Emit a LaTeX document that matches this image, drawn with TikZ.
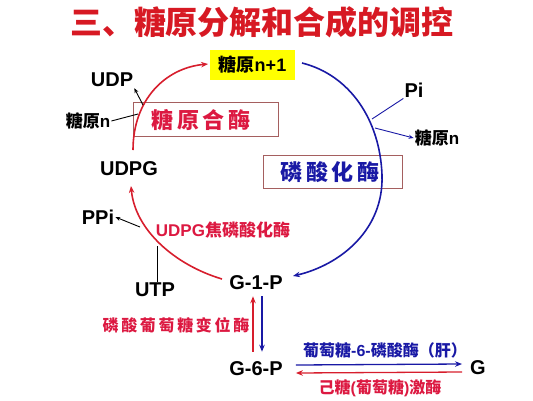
\documentclass[tikz,border=0pt]{standalone}
\usepackage{fontspec}
\setmainfont{Liberation Sans}
\newfontfamily\cjk{Noto Sans CJK SC}
\usetikzlibrary{arrows.meta}
\definecolor{titlered}{RGB}{215,25,35}
\definecolor{arcred}{RGB}{215,30,45}
\definecolor{lblred}{RGB}{220,25,65}
\definecolor{dblue}{RGB}{25,25,165}
\definecolor{boxline}{RGB}{165,95,95}
\definecolor{hlyellow}{RGB}{255,255,0}
\begin{document}
\begin{tikzpicture}[x=1pt,y=-1pt,
  lbl/.style={font=\fontsize{20}{24}\selectfont\bfseries, inner sep=1pt},
  small/.style={font=\fontsize{17}{20}\selectfont\bfseries, inner sep=1pt},
  enzbox/.style={draw=boxline, line width=0.8pt, inner sep=0pt},
  redarc/.style={draw=arcred, line width=1.6pt},
  bluearc/.style={draw=dblue, line width=1.6pt},
  tip/.style={-{Stealth[length=7pt,width=5.5pt]}},
  thin/.style={draw=black, line width=0.9pt},
  stip/.style={-{Stealth[length=5pt,width=4pt]}}
]
\useasboundingbox (0,0) rectangle (533,400);

% title
\node[text=titlered, font=\fontsize{32}{36}\selectfont\cjk\bfseries] (title) at (262,22) {三、糖原分解和合成的调控};

% nodes
\node[fill=hlyellow, minimum width=85pt, minimum height=30pt, inner sep=0pt,
      font=\fontsize{18}{20}\selectfont\bfseries] (n1) at (252.5,65) {{\cjk 糖原}n+1};
\node[lbl] (udp) at (112,80) {UDP};
\node[small] (gnl) at (88,121) {{\cjk 糖原}n};
\node[enzbox, minimum width=145pt, minimum height=34pt] (box1) at (205.5,119) {};
\node[text=lblred, font=\fontsize{22}{24}\selectfont\cjk\bfseries] (syn) at (201,120) {糖\,原\,合\,酶};
\node[lbl] (udpg) at (129,169) {UDPG};
\node[lbl] (ppi) at (98,217) {PPi};
\node[text=lblred, font=\fontsize{17}{20}\selectfont\bfseries, inner sep=1pt] (ppase) at (223,230) {UDPG{\cjk 焦磷酸化酶}};
\node[lbl] (utp) at (155,290) {UTP};
\node[lbl] (g1p) at (256,283) {G-1-P};
\node[lbl] (pi) at (414,90) {Pi};
\node[small] (gnr) at (437,138) {{\cjk 糖原}n};
\node[enzbox, minimum width=139pt, minimum height=33pt] (box2) at (332.5,171.5) {};
\node[text=dblue, font=\fontsize{22}{24}\selectfont\cjk\bfseries] (phos) at (330,172) {磷\,酸\,化\,酶};
\node[text=lblred, font=\fontsize{16}{20}\selectfont\cjk\bfseries] (mut) at (176,325) {磷\,酸\,葡\,萄\,糖\,变\,位\,酶};
\node[lbl] (g6p) at (256,369) {G-6-P};
\node[lbl] (g) at (478,368) {G};
\node[text=dblue, font=\fontsize{16}{20}\selectfont\bfseries] (g6pase) at (385,350) {{\cjk 葡萄糖}-6-{\cjk 磷酸酶（肝）}};
\node[text=lblred, font=\fontsize{16}{20}\selectfont\bfseries] (hk) at (380,388) {{\cjk 己糖}({\cjk 葡萄糖}){\cjk 激酶}};

% arc end points
\coordinate (a1s) at (133,150);
\coordinate (a1e) at (208,64);
\coordinate (a2s) at (302,63);
\coordinate (a2e) at (293,276);
\coordinate (a3s) at (222,279);
\coordinate (a3e) at (131,186);
% points on arcs
\coordinate (pudp) at (143,105);
\coordinate (pgnl) at (138,114);
\coordinate (pppi) at (140,227);
\coordinate (putp) at (157,246);
\coordinate (ppi2) at (372,119);
\coordinate (pgnr) at (375,128);

% cycle arcs
\draw[redarc, tip] (a1s) .. controls (133,100) and (165,68) .. (a1e);
\draw[bluearc, tip] (a2s) .. controls (350,75) and (380,120) .. (382,175)
      .. controls (384,230) and (340,265) .. (a2e);
\draw[redarc, tip] (a3s) .. controls (175,265) and (135,230) .. (a3e);

% side branches
\draw[thin, stip] (pudp) -- (udp.south east);
\draw[thin] (gnl.east) -- (pgnl);
\draw[thin, stip] (pppi) -- (ppi.east);
\draw[thin] (utp.north -| putp) -- (putp);
\draw[draw=dblue, line width=0.9pt] (pi.south west) -- (ppi2);
\draw[draw=dblue, line width=0.9pt, stip] (pgnr) -- (gnr.west);

% G-1-P <-> G-6-P
\draw[redarc, tip, shorten <=9pt, shorten >=5pt] ([xshift=-3pt]g6p.north) -- ([xshift=-3pt]g1p.south);
\draw[bluearc, tip, shorten <=5pt, shorten >=9pt] ([xshift=6pt]g1p.south) -- ([xshift=6pt]g6p.north);

% G-6-P <-> G
\draw[draw=dblue, line width=1.3pt, tip] ([yshift=4pt,xshift=12pt]g6p.east) -- ([yshift=4pt,xshift=-7pt]g.west);
\draw[draw=arcred, line width=1.3pt, tip] ([yshift=-4pt,xshift=-7pt]g.west) -- ([yshift=-4pt,xshift=12pt]g6p.east);
\end{tikzpicture}
\end{document}
